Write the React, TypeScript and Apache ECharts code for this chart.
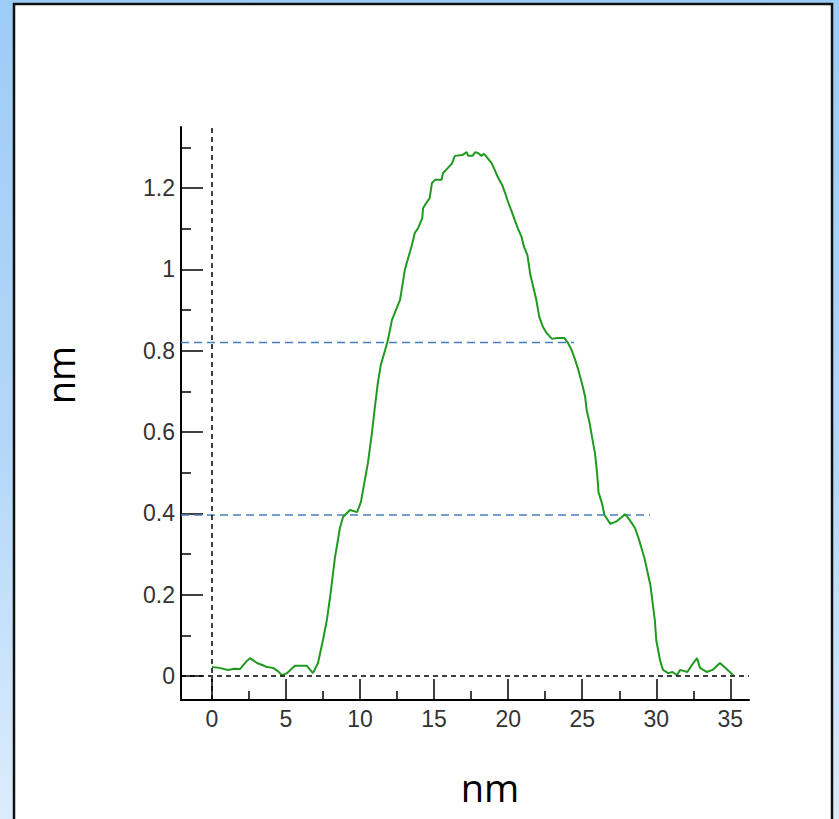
import React, { useEffect, useRef } from "react";
import * as echarts from "echarts";

// Height profile (nm vs nm)
const profileX = [
  0, 0.5, 1.08, 1.5, 1.89, 2.3, 2.57, 3.04, 3.4, 3.71, 4.12, 4.45, 4.73, 5.06, 5.6, 6.41, 6.82, 7.16, 7.5, 7.76,
  8.0, 8.3, 8.64, 8.85, 9.32, 9.8, 10.06, 10.2, 10.53, 10.8, 11.0, 11.2, 11.4, 11.68, 11.88, 12.15, 12.5, 12.7,
  13.03, 13.5, 13.7, 13.9, 14.2, 14.25, 14.5, 14.7, 14.85, 15.06, 15.5, 15.6, 15.87, 16.2, 16.4, 16.9, 17.2,
  17.3, 17.6, 17.76, 17.96, 18.2, 18.37, 18.6, 18.9, 19.1, 19.3, 19.6, 19.8, 20.0, 20.26, 20.46, 20.66, 20.9,
  21.07, 21.3, 21.5, 21.9, 22.1, 22.35, 22.6, 22.96, 23.3, 23.8, 24.04, 24.3, 24.5, 24.7, 24.98, 25.2, 25.3,
  25.5, 25.66, 25.86, 26.0, 26.1, 26.33, 26.5, 26.9, 27.35, 27.9, 28.2, 28.56, 28.8, 29.0, 29.2, 29.6, 29.9,
  30.0, 30.25, 30.45, 30.8, 31.1, 31.4, 31.6, 32.1, 32.4, 32.75, 32.95, 33.4, 33.8, 34.3, 34.6, 35.2,
];
const profileY = [
  0.022, 0.02, 0.015, 0.018, 0.017, 0.035, 0.044, 0.032, 0.027, 0.022, 0.02, 0.012, 0.002, 0.007, 0.025, 0.025,
  0.007, 0.032, 0.089, 0.138, 0.2, 0.29, 0.364, 0.391, 0.408, 0.403, 0.428, 0.457, 0.524, 0.597, 0.661, 0.72,
  0.765, 0.8, 0.826, 0.875, 0.907, 0.925, 1.0, 1.06, 1.09, 1.1, 1.126, 1.15, 1.165, 1.175, 1.212, 1.22, 1.22,
  1.237, 1.247, 1.26, 1.279, 1.281, 1.288, 1.279, 1.279, 1.288, 1.286, 1.279, 1.284, 1.274, 1.26, 1.244, 1.227,
  1.207, 1.187, 1.165, 1.14, 1.12, 1.1, 1.08, 1.055, 1.035, 0.986, 0.925, 0.883, 0.858, 0.843, 0.829, 0.831,
  0.831, 0.819, 0.8, 0.78, 0.757, 0.72, 0.686, 0.654, 0.622, 0.588, 0.548, 0.5, 0.452, 0.425, 0.396, 0.374,
  0.381, 0.398, 0.384, 0.364, 0.339, 0.315, 0.29, 0.224, 0.138, 0.088, 0.039, 0.015, 0.007, 0.01, 0.002, 0.015,
  0.01, 0.027, 0.044, 0.02, 0.01, 0.015, 0.032, 0.022, 0.002,
];

// Reference level lines (blue dashed)
const levelValues = [0.82, 0.396];
const levelEnds = [24.44, 29.57];

// Axes
const xMin = -2.09;
const xMax = 36.26;
const yMin = -0.059;
const yMax = 1.35;
const xMajorTicks = [0, 5, 10, 15, 20, 25, 30, 35];
const xMinorTicks = [2.5, 7.5, 12.5, 17.5, 22.5, 27.5, 32.5];
const yMajorTicks = [0, 0.2, 0.4, 0.6, 0.8, 1, 1.2];
const yMinorTicks = [0.1, 0.3, 0.5, 0.7, 0.9, 1.1, 1.3];
const xTitle = "nm";
const yTitle = "nm";

const tickFont = { fontFamily: "Liberation Sans", fontSize: 23, color: "#333333" };

export default function App() {
  const ref = useRef<HTMLDivElement>(null);

  useEffect(() => {
    if (!ref.current) return;
    const chart = echarts.init(ref.current, undefined, { renderer: "svg" });

    const profile = profileX.map((x, i) => [x, profileY[i]]);

    const levelSeries = levelValues.map((v, i) => ({
      type: "line",
      data: [
        [xMin, v],
        [levelEnds[i], v],
      ],
      symbol: "none",
      silent: true,
      lineStyle: { color: "#4a7ebb", width: 1.5, type: [8, 5] },
      z: 3,
    }));

    const axisLineStyle = { color: "#000", width: 2 };

    chart.setOption({
      animation: false,
      graphic: [
        {
          type: "rect",
          z: -10,
          shape: { x: 14, y: 4, width: 818, height: 840 },
          style: { fill: "#ffffff", stroke: "#111111", lineWidth: 2.5 },
        },
        {
          type: "text",
          x: 490,
          y: 787,
          style: {
            text: xTitle,
            fontFamily: "Open Sans",
            fontSize: 38,
            fill: "#000",
            align: "center",
            verticalAlign: "middle",
          },
        },
        {
          type: "text",
          x: 60,
          y: 375,
          rotation: Math.PI / 2,
          style: {
            text: yTitle,
            fontFamily: "Open Sans",
            fontSize: 38,
            fill: "#000",
            align: "center",
            verticalAlign: "middle",
          },
        },
      ],
      grid: { left: 181, right: 90, top: 127, bottom: 119, containLabel: false },
      xAxis: [
        {
          type: "value",
          min: xMin,
          max: xMax,
          position: "bottom",
          axisLine: { show: true, onZero: false, lineStyle: axisLineStyle },
          axisTick: {
            show: true,
            inside: true,
            length: 21,
            customValues: xMajorTicks,
            lineStyle: { color: "#000", width: 1.5 },
          },
          axisLabel: { show: true, margin: 7, customValues: xMajorTicks, ...tickFont },
          splitLine: { show: false },
        },
        {
          type: "value",
          min: xMin,
          max: xMax,
          position: "bottom",
          offset: 0,
          axisLine: { show: false, onZero: false },
          axisTick: {
            show: true,
            inside: true,
            length: 9,
            customValues: xMinorTicks,
            lineStyle: { color: "#000", width: 1.5 },
          },
          axisLabel: { show: false },
          splitLine: { show: false },
        },
      ],
      yAxis: [
        {
          type: "value",
          min: yMin,
          max: yMax,
          position: "left",
          axisLine: { show: true, onZero: false, lineStyle: axisLineStyle },
          axisTick: {
            show: true,
            inside: true,
            length: 22,
            customValues: yMajorTicks,
            lineStyle: { color: "#000", width: 1.5 },
          },
          axisLabel: {
            show: true,
            margin: 6,
            customValues: yMajorTicks,
            formatter: (v: number) => String(Math.round(v * 10) / 10),
            ...tickFont,
          },
          splitLine: { show: false },
        },
        {
          type: "value",
          min: yMin,
          max: yMax,
          position: "left",
          offset: 0,
          axisLine: { show: false, onZero: false },
          axisTick: {
            show: true,
            inside: true,
            length: 10,
            customValues: yMinorTicks,
            lineStyle: { color: "#000", width: 1.5 },
          },
          axisLabel: { show: false },
          splitLine: { show: false },
        },
      ],
      series: [
        {
          type: "line",
          data: profile,
          symbol: "none",
          silent: true,
          lineStyle: { color: "#1f9a1f", width: 2 },
          z: 4,
          markLine: {
            silent: true,
            symbol: "none",
            label: { show: false },
            lineStyle: { color: "#000", width: 1.5, type: [5, 4] },
            data: [{ xAxis: 0 }, { yAxis: 0 }],
          },
        },
        ...levelSeries,
      ],
    });

    return () => chart.dispose();
  }, []);

  return (
    <div
      style={{
        position: "fixed",
        left: 0,
        top: 0,
        width: 839,
        height: 819,
        background: "linear-gradient(180deg, #9dccf7 0%, #b3d7f9 55%, #dcecfc 100%)",
      }}
    >
      <div ref={ref} style={{ width: 839, height: 819 }} />
    </div>
  );
}
